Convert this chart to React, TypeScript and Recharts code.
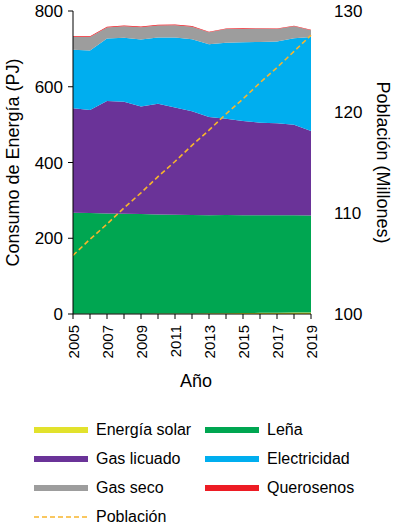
import { Area, ComposedChart, Line, XAxis, YAxis } from "recharts";

const years = [2005, 2006, 2007, 2008, 2009, 2010, 2011, 2012, 2013, 2014, 2015, 2016, 2017, 2018, 2019];
const solar = [0.5, 0.5, 0.6, 0.7, 0.8, 1, 1.2, 1.5, 2, 2.3, 2.7, 3, 3.4, 3.8, 4.2];
const lena = [267, 266, 265, 264, 263, 262, 261, 260, 259, 259, 258, 258, 257, 257, 256];
const gasLicuado = [276, 272, 297, 296, 284, 292, 283, 274, 259, 254, 249, 244, 243, 239, 223];
const electricidad = [154, 157, 165, 169, 177, 175, 185, 190, 192, 201, 208, 213, 216, 228, 248];
const gasSeco = [34, 36, 29, 30, 32, 32, 32, 33, 32, 36, 35, 35, 33, 32, 18];
const querosenos = [2, 2, 2, 2, 2, 2, 2, 2, 1.5, 1.5, 1.5, 1.5, 1.5, 1.5, 1.5];
const poblacion = [105.8, 107.4, 108.9, 110.5, 112.0, 113.6, 115.1, 116.7, 118.2, 119.8, 121.3, 122.9, 124.4, 126.0, 127.6];
const leftTicks = [0, 200, 400, 600, 800];
const rightTicks = [100, 110, 120, 130];

const data = years.map((year, i) => ({
  year,
  solar: solar[i],
  lena: lena[i],
  gasLicuado: gasLicuado[i],
  electricidad: electricidad[i],
  gasSeco: gasSeco[i],
  querosenos: querosenos[i],
  poblacion: poblacion[i],
}));

const font = "'Liberation Sans', Arial, sans-serif";

const legendItems = [
  { label: "Energía solar", color: "#e2e22c" },
  { label: "Leña", color: "#00a651" },
  { label: "Gas licuado", color: "#6a3398" },
  { label: "Electricidad", color: "#00aeef" },
  { label: "Gas seco", color: "#9d9d9d" },
  { label: "Querosenos", color: "#ed1c24" },
];

function YearTick(props: any) {
  const { x, y, payload } = props;
  if (payload.value % 2 === 0) return null;
  return (
    <text
      x={x}
      y={y}
      transform={`rotate(-90 ${x} ${y})`}
      textAnchor="end"
      dominantBaseline="central"
      fontSize={15}
      fontFamily={font}
      fill="#000"
    >
      {payload.value}
    </text>
  );
}

export default function App() {
  return (
    <div style={{ position: "absolute", left: 0, top: 0, width: 395, height: 530, background: "#fff", fontFamily: font }}>
      <ComposedChart width={395} height={400} data={data} margin={{ top: 11, right: 34, left: 23, bottom: 36 }}>
        <XAxis
          dataKey="year"
          type="number"
          domain={[2005, 2019]}
          ticks={years}
          interval={0}
          height={50}
          tick={<YearTick />}
          tickSize={5}
          tickMargin={6}
          stroke="#000"
          label={{ value: "Año", position: "insideBottom", offset: -23, fontSize: 18, fill: "#000", fontFamily: font, dx: 4 }}
        />
        <YAxis
          yAxisId="left"
          domain={[0, 800]}
          ticks={leftTicks}
          width={50}
          tickSize={5}
          tickMargin={5}
          stroke="#000"
          tick={{ fontSize: 17, fill: "#000", fontFamily: font }}
          label={{ value: "Consumo de Energía (PJ)", angle: -90, position: "insideLeft", offset: -10, fontSize: 18, fill: "#000", fontFamily: font, style: { textAnchor: "middle" } }}
        />
        <YAxis
          yAxisId="right"
          orientation="right"
          domain={[100, 130]}
          ticks={rightTicks}
          width={50}
          axisLine={false}
          tickLine={false}
          tickSize={5}
          tickMargin={18}
          tick={{ fontSize: 17, fill: "#000", fontFamily: font }}
          label={{ value: "Población (Millones)", angle: 90, position: "insideRight", offset: -22, fontSize: 18, fill: "#000", fontFamily: font, style: { textAnchor: "middle" } }}
        />
        <Area yAxisId="left" dataKey="solar" stackId="e" type="linear" fill="#e2e22c" stroke="none" fillOpacity={1} isAnimationActive={false} />
        <Area yAxisId="left" dataKey="lena" stackId="e" type="linear" fill="#00a651" stroke="none" fillOpacity={1} isAnimationActive={false} />
        <Area yAxisId="left" dataKey="gasLicuado" stackId="e" type="linear" fill="#6a3398" stroke="none" fillOpacity={1} isAnimationActive={false} />
        <Area yAxisId="left" dataKey="electricidad" stackId="e" type="linear" fill="#00aeef" stroke="none" fillOpacity={1} isAnimationActive={false} />
        <Area yAxisId="left" dataKey="gasSeco" stackId="e" type="linear" fill="#9d9d9d" stroke="none" fillOpacity={1} isAnimationActive={false} />
        <Area yAxisId="left" dataKey="querosenos" stackId="e" type="linear" fill="#ed1c24" stroke="none" fillOpacity={1} isAnimationActive={false} />
        <Line yAxisId="right" dataKey="poblacion" type="linear" stroke="#f7b52c" strokeWidth={1.6} strokeDasharray="5 3" dot={false} isAnimationActive={false} />
      </ComposedChart>
      <div style={{ position: "absolute", left: 34, top: 421, width: 360 }}>
        <div style={{ display: "grid", gridTemplateColumns: "171px 180px", rowGap: 11 }}>
          {legendItems.map((item) => (
            <div key={item.label} style={{ display: "flex", alignItems: "center", height: 18 }}>
              <span style={{ display: "inline-block", width: 54, height: 6, background: item.color, marginRight: 8 }} />
              <span style={{ fontSize: 16, color: "#000" }}>{item.label}</span>
            </div>
          ))}
          <div style={{ display: "flex", alignItems: "center", height: 18 }}>
            <svg width={54} height={6} style={{ marginRight: 8 }}>
              <line x1={0} y1={3} x2={54} y2={3} stroke="#f7b52c" strokeWidth={1.6} strokeDasharray="5 3" />
            </svg>
            <span style={{ fontSize: 16, color: "#000" }}>Población</span>
          </div>
        </div>
      </div>
    </div>
  );
}
